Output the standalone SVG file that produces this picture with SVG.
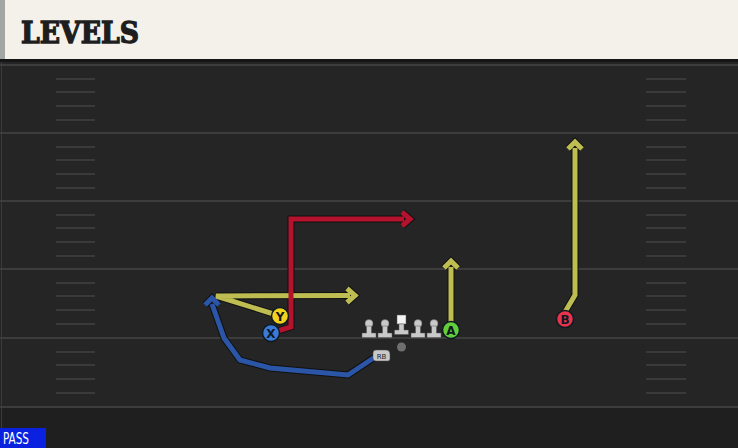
<svg xmlns="http://www.w3.org/2000/svg" width="738" height="448" viewBox="0 0 738 448">
<defs>
<style>
.yl{stroke:#3c3c3c;stroke-width:2}
.hm{stroke:#3a3a3a;stroke-width:2}
.out{fill:none;stroke:#111;stroke-width:7;stroke-linejoin:miter;stroke-linecap:butt}
.rt{fill:none;stroke-width:5;stroke-linejoin:miter;stroke-linecap:butt}
.yel{stroke:#bdbd52}
.red{stroke:#b4122d}
.blu{stroke:#2b55a6}
.pl{stroke:#0e1a22;stroke-width:1.5}
.lbl{font-family:"DejaVu Sans","Liberation Sans",sans-serif;font-size:12px;font-weight:bold;fill:#101820;text-anchor:middle}
.ol{fill:#c9c9c9;stroke:#555;stroke-width:0.5}
</style>
</defs>
<rect x="0" y="0" width="738" height="448" fill="#252525"/>
<rect x="0" y="407" width="738" height="41" fill="#1f1f1f"/>
<line x1="1.5" y1="60" x2="1.5" y2="448" stroke="#3a3a3a" stroke-width="1"/>
<g id="field">
<line class="yl" x1="0" y1="65" x2="738" y2="65"/>
<line class="yl" x1="0" y1="133" x2="738" y2="133"/>
<line class="yl" x1="0" y1="201" x2="738" y2="201"/>
<line class="yl" x1="0" y1="269" x2="738" y2="269"/>
<line class="yl" x1="0" y1="338" x2="738" y2="338"/>
<line class="yl" x1="0" y1="407" x2="738" y2="407"/>
<path class="hm" d="M56 79H95M56 92H95M56 106H95M56 120H95M56 147H95M56 160H95M56 174H95M56 188H95M56 215H95M56 228H95M56 242H95M56 256H95M56 283H95M56 296H95M56 310H95M56 324H95M56 352H95M56 365H95M56 379H95M56 393H95"/>
<path class="hm" d="M646 79H686M646 92H686M646 106H686M646 120H686M646 147H686M646 160H686M646 174H686M646 188H686M646 215H686M646 228H686M646 242H686M646 256H686M646 283H686M646 296H686M646 310H686M646 324H686M646 352H686M646 365H686M646 379H686M646 393H686"/>
</g>
<g id="header">
<rect x="0" y="0" width="738" height="62" fill="#151515"/>
<rect x="0" y="0" width="738" height="59" fill="#f4f1ea"/>
<rect x="0" y="0" width="5" height="59" fill="#a3a6a3"/>
<text x="21" y="43" font-family="'DejaVu Serif','Liberation Serif',serif" font-weight="bold" font-size="30" fill="#1e1e1e" stroke="#1e1e1e" stroke-width="1.4" textLength="118" lengthAdjust="spacingAndGlyphs">LEVELS</text>
</g>
<g id="connectors">
<g class="out">
<path d="M280 316L216 296L350 295.5"/>
<path d="M347 288.5L355 295.5L347 302.5"/>
<path d="M271 333L291 327V219H404"/>
<path d="M402 212L410 219L402 226"/>
<path d="M375 357L348 375L270 368L240 360L224 338L212 304"/>
<path d="M205 305L212 298L219 305"/>
<path d="M451 323V267"/>
<path d="M444 268L451 261L458 268"/>
<path d="M565 312L575 295V148"/>
<path d="M568 149L575 142L582 149"/>
</g>
<path class="rt yel" d="M280 316L216 296L350 295.5"/>
<path class="rt yel" d="M347 288.5L355 295.5L347 302.5"/>
<path class="rt red" d="M271 333L291 327V219H404"/>
<path class="rt red" d="M402 212L410 219L402 226"/>
<path class="rt blu" d="M375 357L348 375L270 368L240 360L224 338L212 304"/>
<path class="rt blu" d="M205 305L212 298L219 305"/>
<path class="rt yel" d="M451 323V267"/>
<path class="rt yel" d="M444 268L451 261L458 268"/>
<path class="rt yel" d="M565 312L575 295V148"/>
<path class="rt yel" d="M568 149L575 142L582 149"/>
</g>
<g id="line">
<g id="lt"><circle class="ol" cx="369" cy="323.5" r="4"/><path class="ol" d="M366.5 326h5v7h4.5v4.5h-14v-4.5h4.5z"/></g>
<g id="lg"><circle class="ol" cx="385" cy="323.5" r="4"/><path class="ol" d="M382.5 326h5v7h4.5v4.5h-14v-4.5h4.5z"/></g>
<g id="c"><rect x="397" y="315" width="9" height="9" fill="#f4f4f4" stroke="#555" stroke-width="0.5"/><path class="ol" d="M399 324h5v6h4.5v4.5h-14v-4.5h4.5z"/></g>
<g id="rg"><circle class="ol" cx="418" cy="323.5" r="4"/><path class="ol" d="M415.5 326h5v7h4.5v4.5h-14v-4.5h4.5z"/></g>
<g id="rtk"><circle class="ol" cx="434" cy="323.5" r="4"/><path class="ol" d="M431.5 326h5v7h4.5v4.5h-14v-4.5h4.5z"/></g>
</g>
<g id="qb"><circle cx="401.5" cy="347" r="4.5" fill="#6f6f6f"/></g>
<g id="rb"><path d="M373 353q0-3 3-3h10q4 0 4 4v5q0 2-2 2h-12q-3 0-3-3z" fill="#c9c9c9" stroke="#444" stroke-width="0.5"/><text x="381.5" y="358.5" font-family="'DejaVu Sans',sans-serif" font-size="7" fill="#222" text-anchor="middle">RB</text></g>
<g id="playerX"><circle class="pl" cx="271" cy="333" r="8.5" fill="#3a7ad8"/><text class="lbl" x="271" y="337.5">X</text></g>
<g id="playerY"><circle class="pl" cx="280" cy="316" r="8.5" fill="#f2d21e"/><text class="lbl" x="280" y="320.5">Y</text></g>
<g id="playerA"><circle class="pl" cx="451" cy="330" r="8.5" fill="#62cf3a"/><text class="lbl" x="451" y="334.5">A</text></g>
<g id="playerB"><circle class="pl" cx="565" cy="319" r="8.5" fill="#e8334a"/><text class="lbl" x="565" y="323.5">B</text></g>
<g id="pass">
<rect x="0" y="428" width="46" height="20" fill="#0a22e0"/>
<text x="3" y="443.5" font-family="'DejaVu Sans Condensed','Liberation Sans Narrow','DejaVu Sans',sans-serif" font-size="15" fill="#ffffff" textLength="26" lengthAdjust="spacingAndGlyphs">PASS</text>
</g>
</svg>
